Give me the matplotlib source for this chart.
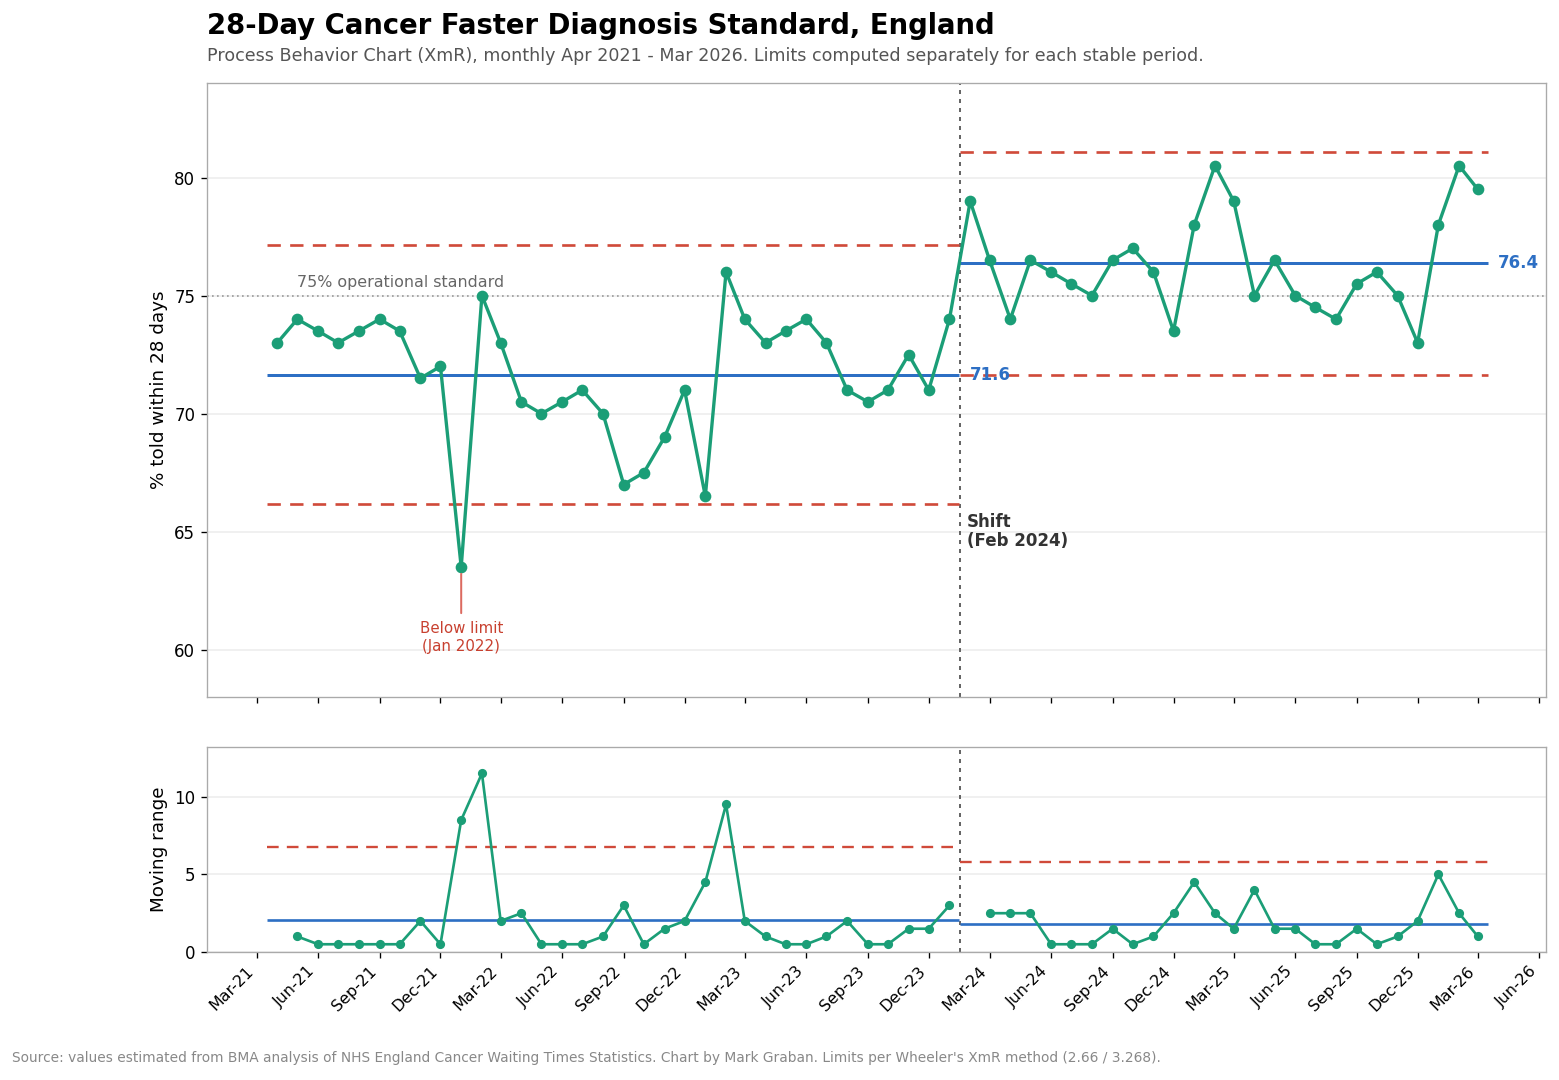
import numpy as np
import pandas as pd
import matplotlib
matplotlib.use("Agg")
import matplotlib.pyplot as plt
import matplotlib.dates as mdates

# colours
green = "#1b9e77"
blue = "#2d6fc4"
red = "#d04a3a"
grey_text = "#666666"

# monthly % told within 28 days, Apr 2021 - Mar 2026
months = pd.date_range("2021-04-01", "2026-03-01", freq="MS")
pct_told = [
    73.0, 74.0, 73.5, 73.0, 73.5, 74.0, 73.5, 71.5, 72.0,        # Apr-Dec 2021
    63.5, 75.0, 73.0, 70.5, 70.0, 70.5, 71.0, 70.0, 67.0, 67.5, 69.0, 71.0,  # 2022
    66.5, 76.0, 74.0, 73.0, 73.5, 74.0, 73.0, 71.0, 70.5, 71.0, 72.5, 71.0,  # 2023
    74.0, 79.0, 76.5, 74.0, 76.5, 76.0, 75.5, 75.0, 76.5, 77.0, 76.0, 73.5,  # 2024
    78.0, 80.5, 79.0, 75.0, 76.5, 75.0, 74.5, 74.0, 75.5, 76.0, 75.0, 73.0,  # 2025
    78.0, 80.5, 79.5,                                            # Jan-Mar 2026
]
shift_index = 34  # Feb 2024 starts the second stable period

values = np.array(pct_told)
periods = [(0, shift_index), (shift_index, len(values))]

fig = plt.figure(figsize=(1559 / 120, 9), dpi=120)
ax = fig.add_axes([0.1328, 0.3546, 0.8589, 0.5685])
ax_mr = fig.add_axes([0.1328, 0.1185, 0.8589, 0.1898], sharex=ax)

half_month = pd.Timedelta(days=15)
shift_x = months[shift_index - 1] + (months[shift_index] - months[shift_index - 1]) / 2

for start, end in periods:
    seg = values[start:end]
    mr = np.abs(np.diff(seg))
    centre = seg.mean()
    mr_bar = mr.mean()
    unpl = centre + 2.66 * mr_bar
    lnpl = centre - 2.66 * mr_bar
    url = 3.268 * mr_bar
    x0 = months[start] - half_month
    x1 = months[end - 1] + half_month

    ax.hlines(centre, x0, x1, color=blue, lw=1.8, zorder=2)
    ax.hlines([unpl, lnpl], x0, x1, color=red, lw=1.6, linestyles=(0, (5, 3.5)), zorder=2)
    ax.text(x1 + pd.Timedelta(days=15), centre, f"{centre:.1f}", color=blue,
            fontsize=10, fontweight="bold", va="center", ha="left", zorder=4)

    ax_mr.hlines(mr_bar, x0, x1, color=blue, lw=1.6, zorder=2)
    ax_mr.hlines(url, x0, x1, color=red, lw=1.4, linestyles=(0, (5, 3.5)), zorder=2)
    ax_mr.plot(months[start + 1:end], mr, color=green, lw=1.6, marker="o", ms=4.5, zorder=3)

# individual values
ax.plot(months, values, color=green, lw=2, marker="o", ms=6, zorder=3)

# 75% standard
ax.axhline(75, color="#999999", lw=1, ls=(0, (1, 2)), zorder=1)
ax.text(months[1], 75.25, "75% operational standard", color=grey_text, fontsize=9.5,
        ha="left", va="bottom")

# signal annotation
low_i = int(np.argmin(values))
ax.annotate("Below limit\n(Jan 2022)", xy=(months[low_i], values[low_i]),
            xytext=(months[low_i], 61.2), ha="center", va="top", fontsize=9,
            color="#c8402f", linespacing=1.25,
            arrowprops=dict(arrowstyle="-", color="#dc6a60", lw=1.2, shrinkA=3, shrinkB=4))

# shift marker
for a in (ax, ax_mr):
    a.axvline(shift_x, color="#666666", lw=1.2, ls=(0, (2, 2.5)), zorder=1)
ax.text(shift_x + pd.Timedelta(days=10), 65.8, "Shift\n(Feb 2024)", fontsize=10,
        fontweight="bold", color="#333333", ha="left", va="top", linespacing=1.1)

ax.set_xlim(pd.Timestamp("2020-12-17"), pd.Timestamp("2026-06-11"))
ax.set_ylim(58, 84)
ax.set_yticks([60, 65, 70, 75, 80])
ax.set_ylabel("% told within 28 days", fontsize=11)
ax_mr.set_ylim(0, 13.2)
ax_mr.set_yticks([0, 5, 10])
ax_mr.set_ylabel("Moving range", fontsize=11)

ax_mr.xaxis.set_major_locator(mdates.MonthLocator(bymonth=[3, 6, 9, 12]))
ax_mr.xaxis.set_major_formatter(mdates.DateFormatter("%b-%y"))
plt.setp(ax.get_xticklabels(), visible=False)
plt.setp(ax_mr.get_xticklabels(), rotation=45, ha="right", fontsize=9.5)

for a in (ax, ax_mr):
    a.grid(axis="y", color="#eeeeee", lw=1)
    a.set_axisbelow(True)
    a.tick_params(axis="y", labelsize=10)
    for s in a.spines.values():
        s.set_color("#aaaaaa")

fig.text(0.1328, 0.976, "28-Day Cancer Faster Diagnosis Standard, England",
         fontsize=16.5, fontweight="bold", ha="left", va="center")
fig.text(0.1328, 0.948,
         "Process Behavior Chart (XmR), monthly Apr 2021 - Mar 2026. "
         "Limits computed separately for each stable period.",
         fontsize=10.5, color="#555555", ha="left", va="center")
fig.text(0.008, 0.0205,
         "Source: values estimated from BMA analysis of NHS England Cancer Waiting Times "
         "Statistics. Chart by Mark Graban. Limits per Wheeler's XmR method (2.66 / 3.268).",
         fontsize=8.25, color="#888888", ha="left", va="center")

fig.savefig("out.png", dpi=120)
